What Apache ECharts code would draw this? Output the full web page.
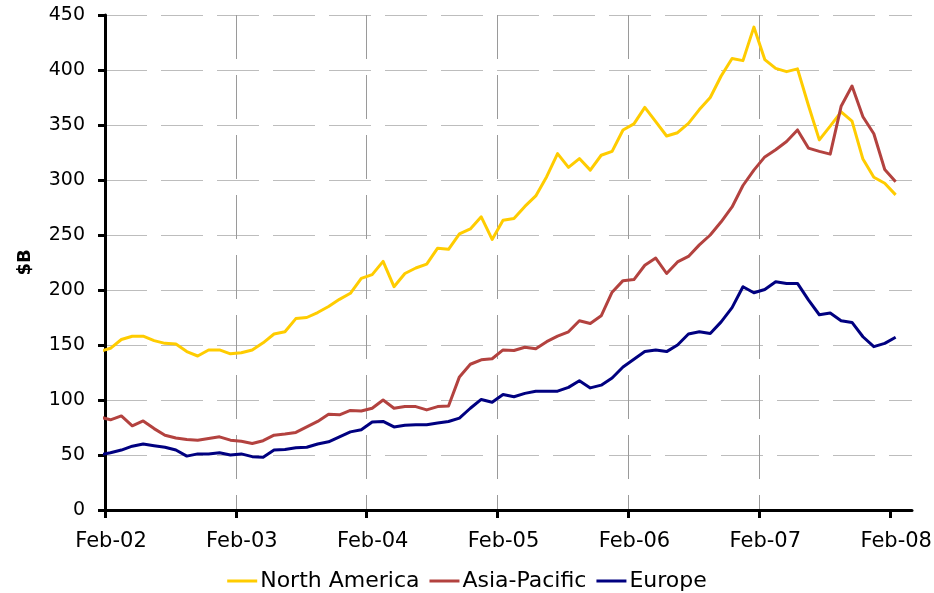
<!DOCTYPE html>
<html>
<head>
<meta charset="utf-8">
<script src="https://cdn.jsdelivr.net/npm/echarts@6/dist/echarts.min.js"></script>
<style>
  html, body { margin: 0; padding: 0; background: #fff; }
  #chart { width: 934px; height: 593px; }
</style>
</head>
<body>
<div id="chart"></div>
<script>
// ── 数据 ──────────────────────────────────────────
// monthly values, Jan-02 (mid) .. Feb-08 (mid), $B
const seriesNames = ['North America', 'Asia-Pacific', 'Europe'];
const tickLabels = ['Feb-02', 'Feb-03', 'Feb-04', 'Feb-05', 'Feb-06', 'Feb-07', 'Feb-08'];

const northAmerica = [
    144, 147, 155, 158, 158, 154, 151.5, 151, 144, 140, 145.5, 145.5, 142,
    143, 145.5, 152, 160, 162, 174, 175, 179.5, 185, 191.5, 197, 210.5,
    214, 226, 203, 215, 220, 223.5, 238, 237, 251, 255.5, 266.5, 246,
    263.5, 265, 276, 285.5, 303, 324, 311.5, 319.5, 309, 322.5, 326, 345.5,
    351, 366, 353, 340, 343, 351.5, 364, 375, 394.5, 410.5, 408.5, 439,
    409.5, 401.5, 398.5, 401, 368, 336.5, 349, 362, 353.5, 319, 302.5, 297,
    286.5,
];
const asiaPacific = [
    84.5, 82, 85.5, 76.5, 81, 74, 68, 65.5, 64, 63.5, 65, 66.5, 63.5,
    62.5, 60.5, 63, 68, 69, 70.5, 75.5, 80.5, 87, 86.5, 90.5, 90,
    92.5, 100, 92.5, 94, 94, 91, 94, 94.5, 121, 132.5, 136.5, 137.5,
    145.5, 145, 148, 146.5, 153, 158, 162, 172, 169.5, 176.5, 198, 208.5,
    209.5, 222.5, 229, 215, 225.5, 230.5, 241, 250, 262, 275.5, 295, 309,
    321, 327.5, 335, 345.5, 329, 326, 323.5, 367, 385.5, 357.5, 342, 309.5,
    298.5,
];
const europe = [
    50, 52, 54.5, 58, 60, 58.5, 57, 54.5, 49, 51, 51, 52, 50,
    51, 48.5, 48, 54.5, 55, 56.5, 57, 60, 62, 66.5, 71, 73,
    80, 80.5, 75.5, 77, 77.5, 77.5, 79, 80.5, 83.5, 92.5, 100.5, 98,
    105, 103, 106, 108, 108, 108, 111.5, 117.5, 111, 113.5, 120, 130,
    137, 144, 145.5, 144, 150, 160, 162, 160.5, 171, 184, 203, 197.5,
    200.5, 207.5, 206, 206, 191, 177.5, 179, 172, 170.5, 157.5, 148.5, 151.5,
    157,
];
const seriesColors = ['#FFCC00', '#B3423F', '#000080'];

// ── 配置 ──────────────────────────────────────────
const FONT = '"DejaVu Sans", sans-serif';
const tickPos = tickLabels.map((_, i) => i * 12);   // months since Feb-02
const toPoints = arr => arr.map((v, i) => [i - 0.5, v]);  // mid-month

const chart = echarts.init(document.getElementById('chart'), null, { renderer: 'canvas' });

chart.setOption({
    animation: false,
    grid: { left: 105, right: 22, top: 15, bottom: 83, containLabel: false, outerBoundsMode: 'none' },
    legend: {
        left: 'center',
        top: 565,
        icon: 'rect',
        itemWidth: 30,
        itemHeight: 3,
        itemGap: 10,
        textStyle: { fontFamily: FONT, fontSize: 22, color: '#000', padding: [0, 0, 0, -2] },
        data: seriesNames,
    },
    xAxis: {
        type: 'value',
        min: 0,
        max: 74,
        interval: 12,
        axisLine: { lineStyle: { color: '#000', width: 3 } },
        axisTick: { length: 8, lineStyle: { color: '#000', width: 3 }, customValues: tickPos },
        axisLabel: {
            customValues: tickPos,
            margin: 21,
            fontFamily: FONT,
            fontSize: 21,
            color: '#000',
            padding: [0, 0, 0, 12],
            formatter: v => tickLabels[Math.round(v / 12)] || '',
        },
        splitLine: {
            show: true,
            showMaxLine: false,
            lineStyle: { color: '#9a9a9a', width: 1, type: [44, 16], dashOffset: 0 },
        },
    },
    yAxis: {
        type: 'value',
        min: 0,
        max: 450,
        interval: 50,
        name: '$B',
        nameLocation: 'middle',
        nameRotate: 90,
        nameGap: 61,
        nameTextStyle: { fontFamily: FONT, fontSize: 18, fontWeight: 'bold', color: '#000', padding: [0, 0, 10, 0] },
        axisLine: { show: true, lineStyle: { color: '#000', width: 3 } },
        axisTick: { show: true, length: 7, lineStyle: { color: '#000', width: 3 } },
        axisLabel: { margin: 20, fontFamily: FONT, fontSize: 19, color: '#000' },
        splitLine: { lineStyle: { color: '#bdbdbd', width: 1, type: [42, 14], dashOffset: 0 } },
    },
    series: [northAmerica, asiaPacific, europe].map((arr, i) => ({
        name: seriesNames[i],
        type: 'line',
        data: toPoints(arr),
        showSymbol: false,
        clip: true,
        lineStyle: { width: 3, color: seriesColors[i], join: 'round' },
        itemStyle: { color: seriesColors[i] },
    })),
});

window.addEventListener('resize', () => chart.resize());
</script>
</body>
</html>
